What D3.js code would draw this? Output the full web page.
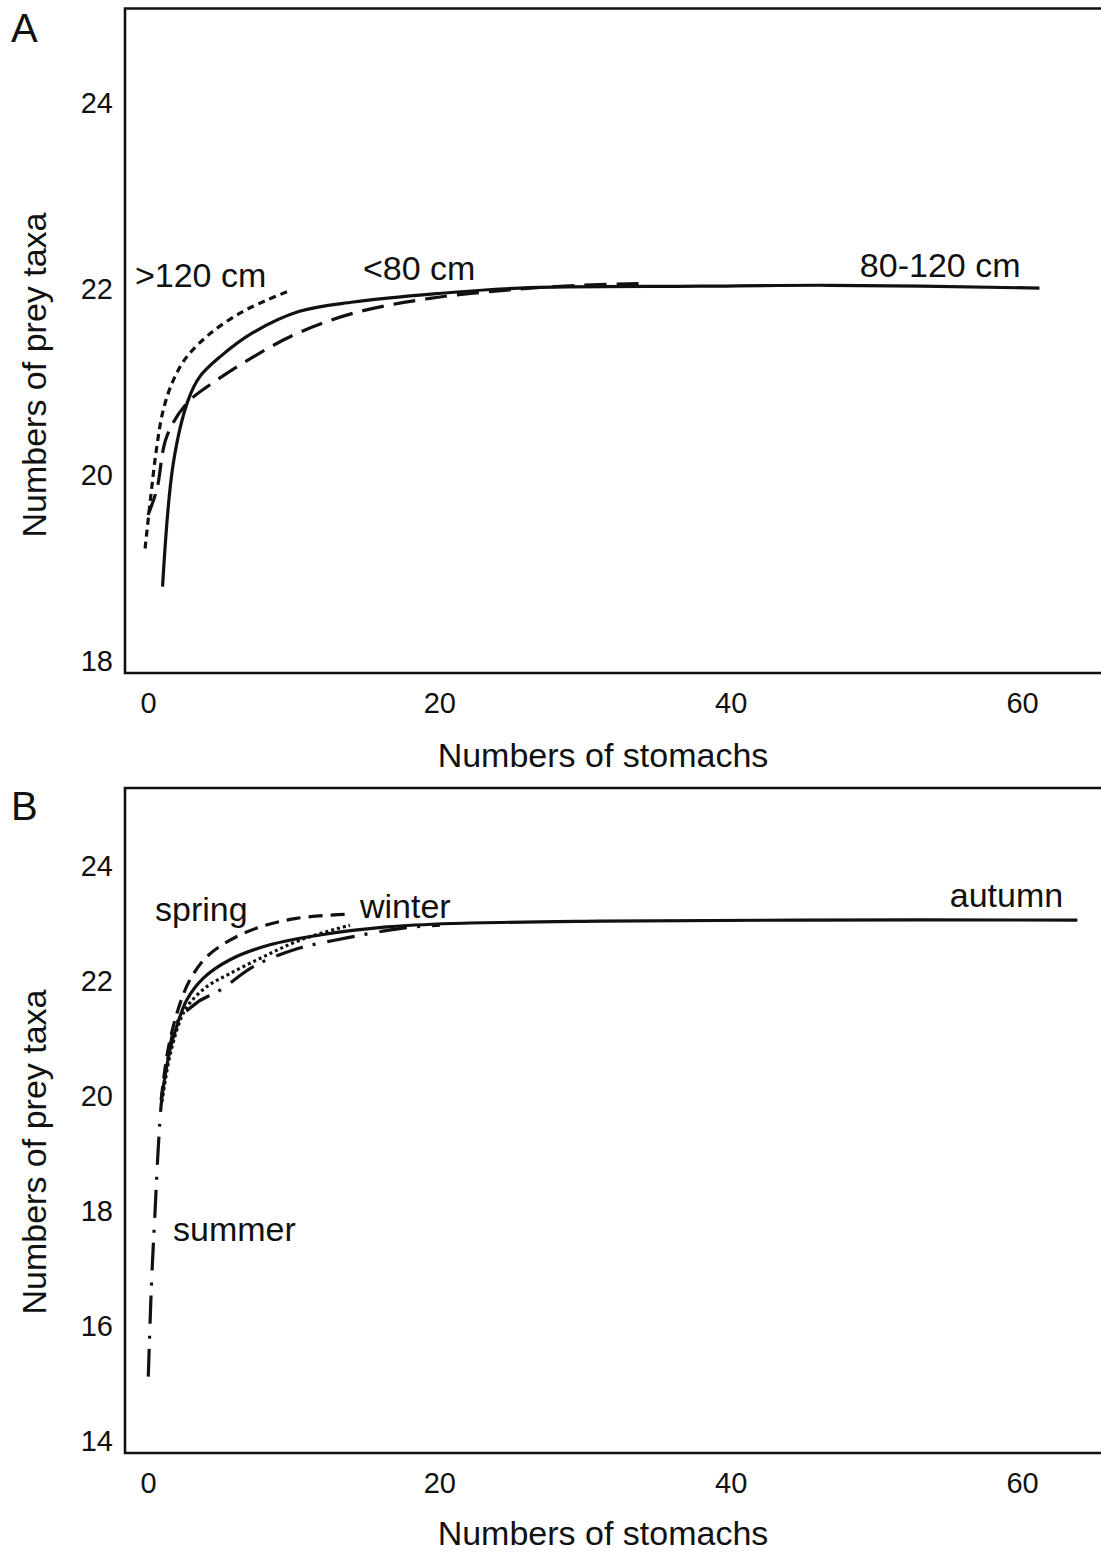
<!DOCTYPE html>
<html>
<head>
<meta charset="utf-8">
<script src="https://cdn.jsdelivr.net/npm/d3@7"></script>
<style>
  body { margin: 0; background: #fff; }
  svg { display: block; font-family: "Liberation Sans", Arial, sans-serif; }
</style>
</head>
<body>
<div id="chart"></div>
<script>
// x ticks shared by both panels
const xTicks = [0, 20, 40, 60];
const yTicksA = [18, 20, 22, 24];
const yTicksB = [14, 16, 18, 20, 22, 24];

// Panel A - body length classes  [stomachs, prey taxa]
const len80to120 = [[1.0, 18.8], [1.74, 20.13], [2.77, 20.81], [3.57, 21.06], [4.94, 21.27], [7.2, 21.53],
  [10.4, 21.76], [14.1, 21.86], [19.8, 21.95], [25.5, 22.01], [37.9, 22.03], [46.8, 22.04], [61.2, 22.01]];
const lenUnder80 = [[0, 19.57], [0.6, 19.84], [1.28, 20.41], [2.66, 20.77], [4.72, 21.02], [7.23, 21.27],
  [10.2, 21.52], [14.1, 21.74], [19.35, 21.9], [25.5, 22.0], [29.6, 22.04], [34.2, 22.06]];
const lenOver120 = [[-0.2, 19.21], [0.14, 19.7], [0.6, 20.3], [1.05, 20.7], [1.74, 21.02], [2.66, 21.27],
  [4.26, 21.52], [6.31, 21.74], [8.15, 21.88], [9.86, 21.99]];

// Panel B - seasons
const autumn = [[0.96, 20.02], [1.51, 20.8], [1.97, 21.21], [2.66, 21.67], [3.8, 22.05], [5.63, 22.37],
  [8.37, 22.63], [11.8, 22.8], [16.4, 22.94], [20.9, 23.0], [31.0, 23.04], [44.7, 23.06], [63.8, 23.06]];
const spring = [[0.9, 19.93], [1.37, 20.8], [2.06, 21.5], [2.88, 22.02], [4.03, 22.42], [5.63, 22.71],
  [7.69, 22.94], [10.2, 23.09], [13.5, 23.16]];
const winter = [[0.96, 19.9], [1.51, 20.71], [2.31, 21.38], [2.88, 21.62], [4.03, 21.9], [5.63, 22.13],
  [7.91, 22.42], [10.43, 22.71], [13.86, 22.97]];
const summer = [[0.02, 15.12], [0.25, 16.8], [0.48, 17.97], [0.71, 19.12], [0.94, 19.93], [1.39, 20.68],
  [1.97, 21.27], [3.34, 21.62], [4.94, 21.84], [7.23, 22.25], [9.97, 22.54], [13.64, 22.75],
  [17.52, 22.92], [20.04, 22.97]];

const W = 1101, H = 1553;

const svg = d3.select("#chart").append("svg")
  .attr("width", W)
  .attr("height", H);

svg.append("rect").attr("width", W).attr("height", H).attr("fill", "#fff");

const panels = [
  {
    letter: "A", top: 8.5, bottom: 673, yTicks: yTicksA, yDomain: [18, 24], yRange: [661, 103],
    titleY: 375, xTitleBase: 767, letterBase: 42,
    series: [
      { data: len80to120, dash: null },
      { data: lenUnder80, dash: "22,10" },
      { data: lenOver120, dash: "7,5" }
    ],
    labels: [
      { text: ">120 cm", x: -0.9, y: 22.02 },
      { text: "<80 cm", x: 14.76, y: 22.1 },
      { text: "80-120 cm", x: 48.87, y: 22.13 }
    ]
  },
  {
    letter: "B", top: 788, bottom: 1453, yTicks: yTicksB, yDomain: [14, 24], yRange: [1441, 866],
    titleY: 1152, xTitleBase: 1545, letterBase: 820,
    series: [
      { data: autumn, dash: null },
      { data: spring, dash: "14,8" },
      { data: winter, dash: "3,3" },
      { data: summer, dash: "28,10,3,12" }
    ],
    labels: [
      { text: "spring", x: 0.48, y: 23.04 },
      { text: "winter", x: 14.55, y: 23.1 },
      { text: "autumn", x: 55.04, y: 23.29 },
      { text: "summer", x: 1.72, y: 17.48 }
    ]
  }
];

const left = 125;

panels.forEach(p => {
  const x = d3.scaleLinear().domain([0, 60]).range([148, 1022]);
  const y = d3.scaleLinear().domain(p.yDomain).range(p.yRange);

  const g = svg.append("g");

  // frame: left, top and bottom edges (right edge runs off the page)
  g.append("path")
    .attr("d", `M${W + 5},${p.top}H${left}V${p.bottom}H${W + 5}`)
    .attr("fill", "none")
    .attr("stroke", "#111")
    .attr("stroke-width", 2.6);

  const xAxis = g.append("g")
    .attr("transform", `translate(0,${p.bottom})`)
    .call(d3.axisBottom(x).tickValues(xTicks).tickFormat(d3.format("d")).tickSize(0).tickPadding(19));
  const yAxis = g.append("g")
    .attr("transform", `translate(${left},0)`)
    .call(d3.axisLeft(y).tickValues(p.yTicks).tickFormat(d3.format("d")).tickSize(0).tickPadding(12));

  [xAxis, yAxis].forEach(a => {
    a.select(".domain").remove();
    a.selectAll("text")
      .attr("font-size", 29)
      .attr("font-family", "'Liberation Sans', Arial, sans-serif")
      .attr("fill", "#111");
  });

  const line = d3.line()
    .x(d => x(d[0]))
    .y(d => y(d[1]))
    .curve(d3.curveCatmullRom.alpha(0.5));

  p.series.forEach(s => {
    g.append("path")
      .datum(s.data)
      .attr("fill", "none")
      .attr("stroke", "#111")
      .attr("stroke-width", 3.2)
      .attr("stroke-dasharray", s.dash)
      .attr("d", line);
  });

  p.labels.forEach(l => {
    g.append("text")
      .attr("x", x(l.x))
      .attr("y", y(l.y))
      .attr("font-size", 34)
      .attr("fill", "#111")
      .text(l.text);
  });

  g.append("text")
    .attr("transform", `translate(46,${p.titleY}) rotate(-90)`)
    .attr("text-anchor", "middle")
    .attr("font-size", 34)
    .attr("fill", "#111")
    .text("Numbers of prey taxa");

  g.append("text")
    .attr("x", 603)
    .attr("y", p.xTitleBase)
    .attr("text-anchor", "middle")
    .attr("font-size", 34)
    .attr("fill", "#111")
    .text("Numbers of stomachs");

  g.append("text")
    .attr("x", 11)
    .attr("y", p.letterBase)
    .attr("font-size", 40)
    .attr("fill", "#111")
    .text(p.letter);
});
</script>
</body>
</html>
